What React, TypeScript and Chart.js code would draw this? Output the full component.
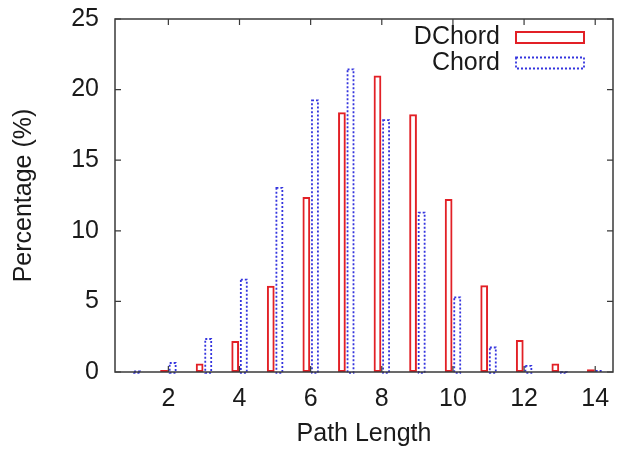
import React, { useEffect, useRef } from 'react';
import { Chart, registerables } from 'chart.js';

Chart.register(...registerables);

const categories = ['1', '2', '3', '4', '5', '6', '7', '8', '9', '10', '11', '12', '13', '14'];
const xTickLabels = ['2', '4', '6', '8', '10', '12', '14'];
const yTicks = [0, 5, 10, 15, 20, 25];
const dchordValues = [0.0, 0.15, 0.6, 2.2, 6.1, 12.4, 18.4, 21.0, 18.25, 12.25, 6.15, 2.27, 0.6, 0.2];
const chordValues = [0.1, 0.7, 2.4, 6.6, 13.1, 19.3, 21.5, 17.9, 11.35, 5.35, 1.8, 0.5, 0.05, 0.0];
const seriesLabels = ['DChord', 'Chord'];

const FONT = '"Liberation Sans", Arial, Helvetica, sans-serif';
const FS = 25;
const RED = 'rgb(226,32,38)';
const BLUE = 'rgb(52,52,222)';
const FRAME = '#3a3a3a';
const TEXT = '#1a1a1a';

const decorPlugin = {
  id: 'decor',
  afterDatasetsDraw(chart: any) {
    const ctx = chart.ctx;
    const area = chart.chartArea;
    const xs = chart.scales.x;
    const ys = chart.scales.y;
    // dashed outline for Chord bars
    const meta = chart.getDatasetMeta(1);
    ctx.save();
    ctx.strokeStyle = BLUE;
    ctx.lineWidth = 1.8;
    ctx.setLineDash([2, 2]);
    meta.data.forEach((el: any) => {
      const p = el.getProps(['x', 'y', 'base', 'width'], true);
      const h = p.base - p.y;
      if (h < 0.5) {
        ctx.beginPath();
        ctx.moveTo(p.x - p.width / 2, p.base - 1);
        ctx.lineTo(p.x + p.width / 2, p.base - 1);
        ctx.stroke();
        return;
      }
      ctx.strokeRect(p.x - p.width / 2 + 0.9, p.y + 0.9, p.width - 1.8, h);
    });
    ctx.restore();

    // frame
    ctx.save();
    ctx.strokeStyle = FRAME;
    ctx.lineWidth = 1.5;
    ctx.setLineDash([]);
    ctx.strokeRect(area.left, area.top, area.right - area.left, area.bottom - area.top);
    // inward ticks
    const tl = 6;
    ctx.lineWidth = 1.2;
    ctx.beginPath();
    categories.forEach((c, i) => {
      if (xTickLabels.indexOf(c) < 0) return;
      const x = xs.getPixelForValue(i);
      ctx.moveTo(x, area.bottom);
      ctx.lineTo(x, area.bottom - tl);
      ctx.moveTo(x, area.top);
      ctx.lineTo(x, area.top + tl);
    });
    yTicks.forEach((v) => {
      const y = ys.getPixelForValue(v);
      ctx.moveTo(area.left, y);
      ctx.lineTo(area.left + tl, y);
      ctx.moveTo(area.right, y);
      ctx.lineTo(area.right - tl, y);
    });
    ctx.stroke();
    ctx.restore();
  },
  afterDraw(chart: any) {
    const ctx = chart.ctx;
    const area = chart.chartArea;
    const boxW = 70;
    const boxH = 13;
    const boxRight = area.right - 28;
    const boxLeft = boxRight - boxW;
    const rows = [area.top + 18.5, area.top + 44];
    ctx.save();
    ctx.font = `${FS}px ${FONT}`;
    ctx.fillStyle = TEXT;
    ctx.textAlign = 'right';
    ctx.textBaseline = 'middle';
    chart.data.datasets.forEach((ds: any, i: number) => {
      const cy = rows[i];
      ctx.fillText(ds.label, boxLeft - 15, cy);
      ctx.lineWidth = i === 0 ? 2 : 1.8;
      ctx.strokeStyle = i === 0 ? RED : BLUE;
      ctx.setLineDash(i === 0 ? [] : [2, 2]);
      ctx.strokeRect(boxLeft + 1, cy - boxH / 2 + 1, boxW - 2, boxH - 2);
    });
    ctx.restore();
  },
};

export default function App() {
  const ref = useRef<HTMLCanvasElement>(null);

  useEffect(() => {
    if (!ref.current) return;
    const chart = new Chart(ref.current, {
      type: 'bar',
      data: {
        labels: categories,
        datasets: [
          {
            label: seriesLabels[0],
            data: dchordValues,
            backgroundColor: 'rgba(0,0,0,0)',
            borderColor: RED,
            borderWidth: 2,
            borderSkipped: false,
            categoryPercentage: 0.484,
            barPercentage: 0.9,
          },
          {
            label: seriesLabels[1],
            data: chordValues,
            backgroundColor: 'rgba(0,0,0,0)',
            borderColor: 'rgba(0,0,0,0)',
            borderWidth: 0,
            categoryPercentage: 0.484,
            barPercentage: 0.9,
          },
        ],
      },
      options: {
        responsive: false,
        animation: false,
        layout: { padding: { left: 0, right: 9, top: 19, bottom: 0 } },
        plugins: {
          legend: { display: false },
          tooltip: { enabled: false },
        },
        scales: {
          x: {
            type: 'category',
            offset: true,
            grid: { display: false, drawTicks: false },
            border: { display: false },
            ticks: {
              autoSkip: false,
              maxRotation: 0,
              padding: 12,
              color: TEXT,
              font: { family: FONT, size: FS },
              callback: (_v: any, i: number) =>
                xTickLabels.indexOf(categories[i]) >= 0 ? categories[i] : '',
            },
            title: {
              display: true,
              text: 'Path Length',
              color: TEXT,
              font: { family: FONT, size: FS },
              padding: { top: 0, bottom: 0.5 },
            },
            afterFit: (s: any) => {
              s.height = 78;
              s.paddingLeft = 0;
              s.paddingRight = 0;
            },
          },
          y: {
            min: 0,
            max: 25,
            grid: { display: false, drawTicks: false },
            border: { display: false },
            ticks: {
              stepSize: 5,
              padding: 16,
              color: TEXT,
              font: { family: FONT, size: FS },
            },
            title: {
              display: true,
              text: 'Percentage (%)',
              color: TEXT,
              font: { family: FONT, size: FS },
              padding: { top: 9.3, bottom: 0 },
            },
            afterFit: (s: any) => {
              s.width = 115;
              s.paddingTop = 0;
              s.paddingBottom = 0;
            },
          },
        },
      },
      plugins: [decorPlugin],
    });
    return () => chart.destroy();
  }, []);

  return (
    <div style={{ position: 'absolute', left: 0, top: 0, width: 622, height: 450, background: '#fff' }}>
      <canvas ref={ref} width={622} height={450} style={{ display: 'block', width: 622, height: 450 }} />
    </div>
  );
}
